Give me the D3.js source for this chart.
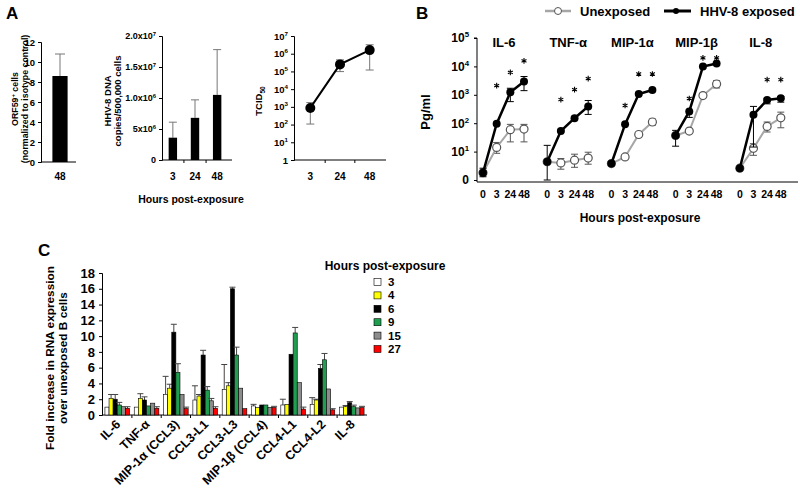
<!DOCTYPE html>
<html><head><meta charset="utf-8">
<script src="https://cdn.jsdelivr.net/npm/d3@7"></script>
<style>
body{margin:0;background:#fff}
svg{font-family:"Liberation Sans",Arial,sans-serif;font-weight:bold}
</style>
</head><body><svg id="c" width="800" height="490"></svg>
<script>
// ---------- Panel A1 ----------
const a1Cats = ["48"];
const a1Vals = [8.6];
const a1Hi = [10.8];
const a1Ticks = [0,2,4,6,8,10,12];
// ---------- Panel A2 ----------
const a2Cats = ["3","24","48"];
const a2Vals = [3.6e6, 6.8e6, 10.5e6];
const a2Hi = [6.1e6, 9.7e6, 17.8e6];
const a2Ticks = [0, 5e6, 1e7, 1.5e7, 2e7];
const a2TickLabels = [["0",""],["5x10","6"],["1.0x10","6"],["1.5x10","7"],["2.0x10","7"]];
// ---------- Panel A3 ----------
const a3Cats = ["3","24","48"];
const a3Vals = [870, 2.5e5, 1.6e6];
const a3Lo = [107, 9.8e4, 1.2e5];
const a3Hi = [1740, 4.5e5, 3.2e6];
const a3Ticks = [1,1e1,1e2,1e3,1e4,1e5,1e6,1e7];
const a3TickLabels = [["1",""],["10","1"],["10","2"],["10","3"],["10","4"],["10","5"],["10","6"],["10","7"]];
// ---------- Panel B ----------
const bPanels = ["IL-6","TNF-α","MIP-1α","MIP-1β","IL-8"];
const bTimes = ["0","3","24","48"];
const bExposed   = [[1.8,96,1230,2950],[4.4,53,150,390],[3.8,91,1070,1480],[37,260,9900,12600],[2.6,200,660,760]];
const bExposedHi = [[2.6,null,1700,4400],[16.6,null,null,630],[4.4,null,null,null],[56,null,null,null],[null,390,755,870]];
const bExposedLo = [[1.3,null,575,1400],[1,null,null,204],[3.2,null,null,null],[15.5,160,null,null],[null,14.5,480,550]];
const bUnexp   = [[1.8,14,59,62],[4.4,4,5,5.9],[3.8,6.5,40,110],[37,53,940,2400],[2.6,13,77,155]];
const bUnexpHi = [[null,21,91,91],[null,5.7,8.1,9.5],[null,7.8,null,140],[null,null,null,3160],[null,19,110,245]];
const bUnexpLo = [[null,8.7,22,22],[null,2.4,2.8,3.6],[null,null,null,85],[null,null,null,1740],[null,7.4,49,69]];
const bStars = [[null,2100,6150,15700],[null,680,1520,3700],[null,420,5400,5400],[null,740,20000,20000],[null,null,3400,3400]];
const bTicks = [1,1e1,1e2,1e3,1e4,1e5];
const bTickLabels = [["0",""],["10","1"],["10","2"],["10","3"],["10","4"],["10","5"]];
const bSeries = ["Unexposed","HHV-8 exposed"];
// ---------- Panel C ----------
const cGenes = ["IL-6","TNF-α","MIP-1α (CCL3)","CCL3-L1","CCL3-L3","MIP-1β (CCL4)","CCL4-L1","CCL4-L2","IL-8"];
const cHours = ["3","4","6","9","15","27"];
const cColors = ["#ffffff","#ffff00","#000000","#1f9e50","#8c8c8c","#ff0000"];
const cH3  = [1.0,1.0,2.6,1.9,3.25,1.15,1.27,1.35,1.0];
const cH4  = [2.1,2.1,3.4,2.4,3.7,0.93,1.35,1.9,1.05];
const cH6  = [2.0,1.9,10.5,7.6,16.0,1.27,7.7,5.9,1.55];
const cH9  = [1.27,1.15,5.4,3.15,7.6,1.27,10.4,7.0,1.05];
const cH15 = [1.05,1.5,2.6,1.8,3.4,0.97,4.1,3.3,0.9];
const cH27 = [0.85,0.85,0.8,0.85,0.8,0.93,0.75,0.65,0.93];
const cH3e  = [null,null,4.9,3.7,6.4,1.35,2.0,2.2,null];
const cH4e  = [2.6,2.7,3.9,2.6,4.1,null,null,2.0,1.2];
const cH6e  = [2.6,2.3,11.5,8.2,16.2,null,null,6.4,1.7];
const cH9e  = [1.6,null,6.5,3.6,8.6,null,11.1,7.8,1.25];
const cH15e = [null,null,null,2.1,null,null,null,null,null];
const cH27e = [1.05,1.05,1.0,1.05,null,1.1,1.0,0.8,1.1];
const cSeries = [cH3,cH4,cH6,cH9,cH15,cH27];
const cErr = [cH3e,cH4e,cH6e,cH9e,cH15e,cH27e];
const cTicks = [0,2,4,6,8,10,12,14,16,18];

const svg = d3.select("#c");

function supText(sel, base, exp, size){
  sel.text(base);
  if (exp) sel.append("tspan").attr("dy", -size*0.42).attr("font-size", size*0.65).text(exp);
}
function styleAxis(g, fs){
  g.selectAll("path,line").attr("stroke","#000").attr("stroke-width",1);
  g.selectAll("text").attr("font-size",fs).attr("font-family",null).attr("font-weight","bold").attr("fill","#000");
}
function rotLabel(x, y, txt, fs){
  return svg.append("text").attr("transform",`translate(${x},${y}) rotate(-90)`)
    .attr("text-anchor","middle").attr("font-size",fs).text(txt);
}

// panel letters
svg.append("text").attr("x",6).attr("y",19).attr("font-size",17).text("A");
svg.append("text").attr("x",416).attr("y",19).attr("font-size",17).text("B");
svg.append("text").attr("x",38).attr("y",256).attr("font-size",17).text("C");

// ===== A1 =====
{
  const y = d3.scaleLinear().domain([0,12]).range([162,42]);
  const x = d3.scaleBand().domain(a1Cats).range([41,79]).paddingInner(0.6).paddingOuter(0.3);
  const g = svg.append("g").attr("transform","translate(41,0)")
    .call(d3.axisLeft(y).tickValues(a1Ticks).tickSize(3).tickPadding(3));
  styleAxis(g, 9.5);
  svg.append("line").attr("x1",41).attr("x2",76).attr("y1",162).attr("y2",162).attr("stroke","#000");
  a1Cats.forEach((c,i)=>{
    const cx = x(c)+x.bandwidth()/2;
    svg.append("line").attr("x1",cx).attr("x2",cx).attr("y1",y(a1Vals[i])).attr("y2",y(a1Hi[i])).attr("stroke","#777");
    svg.append("line").attr("x1",cx-5).attr("x2",cx+5).attr("y1",y(a1Hi[i])).attr("y2",y(a1Hi[i])).attr("stroke","#777");
    svg.append("rect").attr("x",x(c)).attr("width",x.bandwidth()).attr("y",y(a1Vals[i])).attr("height",y(0)-y(a1Vals[i])).attr("fill","#000");
    svg.append("text").attr("x",cx).attr("y",180).attr("text-anchor","middle").attr("font-size",10).text(c);
  });
  const t1 = rotLabel(18,99,"ORF59",8.8);
  t1.append("tspan").attr("dy",-3.5).attr("font-size",6).text("+");
  t1.append("tspan").attr("dy",3.5).attr("font-size",8.8).text(" cells");
  rotLabel(28,99,"(normalized to isotype control)",8.8);
}

// ===== A2 =====
{
  const y = d3.scaleLinear().domain([0,2e7]).range([160,36]);
  const x = d3.scaleBand().domain(a2Cats).range([162,228]).paddingInner(0.62).paddingOuter(0.3);
  const g = svg.append("g").attr("transform","translate(162,0)")
    .call(d3.axisLeft(y).tickValues(a2Ticks).tickSize(3).tickPadding(3).tickFormat(""));
  styleAxis(g, 9);
  g.selectAll(".tick text").each(function(d,i){ supText(d3.select(this), a2TickLabels[i][0], a2TickLabels[i][1], 9); });
  svg.append("line").attr("x1",162).attr("x2",232).attr("y1",160).attr("y2",160).attr("stroke","#000");
  a2Cats.forEach((c,i)=>{
    const cx = x(c)+x.bandwidth()/2;
    if (i>0){ const tx = x(c)-x.step()*x.paddingInner()/2; svg.append("line").attr("x1",tx).attr("x2",tx).attr("y1",160).attr("y2",163).attr("stroke","#000"); }
    svg.append("line").attr("x1",cx).attr("x2",cx).attr("y1",y(a2Vals[i])).attr("y2",y(a2Hi[i])).attr("stroke","#777");
    svg.append("line").attr("x1",cx-4).attr("x2",cx+4).attr("y1",y(a2Hi[i])).attr("y2",y(a2Hi[i])).attr("stroke","#777");
    svg.append("rect").attr("x",x(c)).attr("width",x.bandwidth()).attr("y",y(a2Vals[i])).attr("height",y(0)-y(a2Vals[i])).attr("fill","#000");
    svg.append("text").attr("x",cx).attr("y",180).attr("text-anchor","middle").attr("font-size",10).text(c);
  });
  rotLabel(111,101,"HHV-8 DNA",9.5);
  rotLabel(121,101,"copies/500,000 cells",9.5);
  svg.append("text").attr("x",191).attr("y",203).attr("text-anchor","middle").attr("font-size",10.5).text("Hours post-exposure");
}

// ===== A3 =====
{
  const y = d3.scaleLog().domain([1,1e7]).range([160,36]);
  const x = d3.scalePoint().domain(a3Cats).range([294,386]).padding(0.55);
  const g = svg.append("g").attr("transform","translate(294,0)")
    .call(d3.axisLeft(y).tickValues(a3Ticks).tickSize(3).tickPadding(3).tickFormat(""));
  styleAxis(g, 9.5);
  g.selectAll(".tick text").each(function(d,i){ supText(d3.select(this), a3TickLabels[i][0], a3TickLabels[i][1], 9.5); });
  svg.append("line").attr("x1",294).attr("x2",386).attr("y1",160).attr("y2",160).attr("stroke","#000");
  for (let i=1;i<a3Cats.length;i++){
    const tx = (x(a3Cats[i-1])+x(a3Cats[i]))/2;
    svg.append("line").attr("x1",tx).attr("x2",tx).attr("y1",160).attr("y2",163).attr("stroke","#000");
  }
  a3Cats.forEach((c,i)=>{
    const cx = x(c);
    svg.append("line").attr("x1",cx).attr("x2",cx).attr("y1",y(a3Lo[i])).attr("y2",y(a3Hi[i])).attr("stroke","#777");
    [a3Lo[i],a3Hi[i]].forEach(v=>svg.append("line").attr("x1",cx-4).attr("x2",cx+4).attr("y1",y(v)).attr("y2",y(v)).attr("stroke","#777"));
    svg.append("text").attr("x",cx).attr("y",180).attr("text-anchor","middle").attr("font-size",10).text(c);
  });
  const line = d3.line().x((d,i)=>x(a3Cats[i])).y(d=>y(d));
  svg.append("path").attr("d",line(a3Vals)).attr("fill","none").attr("stroke","#000").attr("stroke-width",2);
  a3Vals.forEach((v,i)=>svg.append("circle").attr("cx",x(a3Cats[i])).attr("cy",y(v)).attr("r",5).attr("fill","#000"));
  const t = rotLabel(262,101,"TCID",9.5);
  t.append("tspan").attr("dy",3).attr("font-size",6.5).text("50");
}

// ===== B =====
{
  const y = d3.scaleLog().domain([1,1e5]).range([180,38]);
  const outer = d3.scaleBand().domain(bPanels).range([479,800]);
  const g = svg.append("g").attr("transform","translate(477,0)")
    .call(d3.axisLeft(y).tickValues(bTicks).tickSize(3).tickPadding(5).tickFormat(""));
  styleAxis(g, 12);
  g.select(".domain").attr("d","M-3,38H0V182");
  g.selectAll(".tick text").each(function(d,i){ supText(d3.select(this), bTickLabels[i][0], bTickLabels[i][1], 12); });
  svg.append("line").attr("x1",477).attr("x2",798).attr("y1",182).attr("y2",182).attr("stroke","#000");
  rotLabel(430,112,"Pg/ml",13);
  svg.append("text").attr("x",640).attr("y",222).attr("text-anchor","middle").attr("font-size",12).text("Hours post-exposure");

  const star = d3.symbol().type(d3.symbolAsterisk).size(22);
  bPanels.forEach((p,pi)=>{
    const x0 = outer(p);
    const x = d3.scalePoint().domain(bTimes).range([x0+4, x0+45]);
    svg.append("text").attr("x",x0+25).attr("y",47).attr("text-anchor","middle").attr("font-size",13).text(p);
    bTimes.forEach(t=>svg.append("text").attr("x",x(t)).attr("y",198).attr("text-anchor","middle").attr("font-size",10.5).text(t));
    const line = d3.line().x((d,i)=>x(bTimes[i])).y(d=>y(d));
    const drawErr = (vals, his, los, col) => {
      vals.forEach((v,i)=>{
        const hi = his[i], lo = los[i];
        if (hi==null && lo==null) return;
        const cx = x(bTimes[i]);
        svg.append("line").attr("x1",cx).attr("x2",cx).attr("y1",y(lo??v)).attr("y2",y(hi??v)).attr("stroke",col);
        [hi,lo].forEach(e=>{ if(e!=null) svg.append("line").attr("x1",cx-3.5).attr("x2",cx+3.5).attr("y1",y(e)).attr("y2",y(e)).attr("stroke",col); });
      });
    };
    // unexposed
    drawErr(bUnexp[pi], bUnexpHi[pi], bUnexpLo[pi], "#555");
    svg.append("path").attr("d",line(bUnexp[pi])).attr("fill","none").attr("stroke","#a6a6a6").attr("stroke-width",2);
    bUnexp[pi].forEach((v,i)=>svg.append("circle").attr("cx",x(bTimes[i])).attr("cy",y(v)).attr("r",4).attr("fill","#fff").attr("stroke","#555").attr("stroke-width",1.2));
    // exposed
    drawErr(bExposed[pi], bExposedHi[pi], bExposedLo[pi], "#000");
    svg.append("path").attr("d",line(bExposed[pi])).attr("fill","none").attr("stroke","#000").attr("stroke-width",2.5);
    bExposed[pi].forEach((v,i)=>svg.append("circle").attr("cx",x(bTimes[i])).attr("cy",y(v)).attr("r",4).attr("fill","#000"));
    bStars[pi].forEach((s,i)=>{ if(s!=null) svg.append("path").attr("d",star()).attr("transform",`translate(${x(bTimes[i])},${y(s)})`).attr("stroke","#000").attr("stroke-width",1.1).attr("fill","none"); });
  });
  // legend
  svg.append("line").attr("x1",545).attr("x2",571).attr("y1",11).attr("y2",11).attr("stroke","#a6a6a6").attr("stroke-width",2.5);
  svg.append("circle").attr("cx",558).attr("cy",11).attr("r",3.5).attr("fill","#fff").attr("stroke","#555");
  svg.append("text").attr("x",580).attr("y",16).attr("font-size",13).text(bSeries[0]);
  svg.append("line").attr("x1",664).attr("x2",691).attr("y1",11).attr("y2",11).attr("stroke","#000").attr("stroke-width",3);
  svg.append("circle").attr("cx",676).attr("cy",11).attr("r",3).attr("fill","#000");
  svg.append("text").attr("x",700).attr("y",16).attr("font-size",13).text(bSeries[1]);
}

// ===== C =====
{
  const y = d3.scaleLinear().domain([0,18]).range([415,273]);
  const x = d3.scaleBand().domain(cGenes).range([102,367]).paddingInner(0.16).paddingOuter(0.1);
  const xi = d3.scaleBand().domain(cHours).range([0,x.bandwidth()]);
  const g = svg.append("g").attr("transform","translate(102,0)")
    .call(d3.axisLeft(y).tickValues(cTicks).tickSize(3).tickPadding(4));
  styleAxis(g, 13);
  svg.append("line").attr("x1",102).attr("x2",367).attr("y1",415).attr("y2",415).attr("stroke","#000");
  cGenes.forEach((c,gi)=>{
    if (gi>0){ const tx = x(c)-x.step()*x.paddingInner()/2; svg.append("line").attr("x1",tx).attr("x2",tx).attr("y1",415).attr("y2",418).attr("stroke","#000"); }
    cSeries.forEach((s,si)=>{
      const bx = x(c)+xi(cHours[si]), bw = xi.bandwidth();
      const e = cErr[si][gi];
      if (e!=null){
        svg.append("line").attr("x1",bx+bw/2).attr("x2",bx+bw/2).attr("y1",y(s[gi])).attr("y2",y(e)).attr("stroke","#444");
        svg.append("line").attr("x1",bx+bw/2-3).attr("x2",bx+bw/2+3).attr("y1",y(e)).attr("y2",y(e)).attr("stroke","#444");
      }
      svg.append("rect").attr("x",bx).attr("width",bw).attr("y",y(s[gi])).attr("height",y(0)-y(s[gi]))
        .attr("fill",cColors[si]).attr("stroke","#000").attr("stroke-width",0.6);
    });
    const cx = x(c)+x.bandwidth()/2+4;
    svg.append("text").attr("transform",`translate(${cx},425) rotate(-45)`).attr("text-anchor","end").attr("font-size",12.5).text(c);
  });
  rotLabel(54,358,"Fold increase in RNA expression",11.8);
  rotLabel(67,358,"over unexposed B cells",11.8);
  // legend
  svg.append("text").attr("x",385).attr("y",270).attr("text-anchor","middle").attr("font-size",12).text("Hours post-exposure");
  const ly = d3.scalePoint().domain(cHours).range([282,349]);
  cHours.forEach((h,i)=>{
    svg.append("rect").attr("x",374).attr("y",ly(h)-3.5).attr("width",7).attr("height",7).attr("fill",cColors[i]).attr("stroke","#000").attr("stroke-width",0.6);
    svg.append("text").attr("x",388).attr("y",ly(h)+4).attr("font-size",11.5).text(h);
  });
}
</script>
</body></html>
